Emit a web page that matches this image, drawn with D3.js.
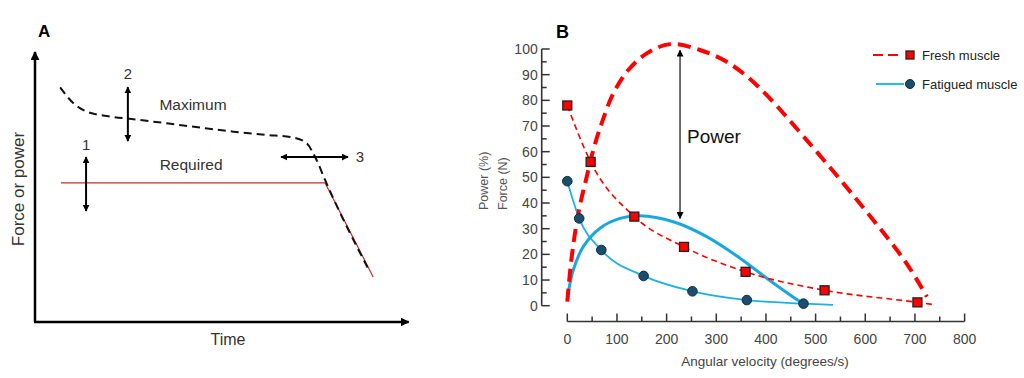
<!DOCTYPE html>
<html><head><meta charset="utf-8">
<script src="https://cdn.jsdelivr.net/npm/d3@7"></script>
<style>body{margin:0;background:#fff}svg{display:block}text{font-family:"Liberation Sans",Arial,sans-serif}</style>
</head><body>
<svg id="c" width="1024" height="378"></svg>
<script>
// ---------- Panel A data (arbitrary units 0..100) ----------
const maxCurveX = [6.8,10.4,14,19.4,26.6,35.6,44.6,53.6,62.6,69.8,73.4,76.1,78.4,90.5];
const maxCurveY = [86.9,81,77.9,76.3,75.1,73.6,72,70.5,69.3,68.3,66.2,60,52.6,18.6];
const requiredX = [7,78.4,91.4];
const requiredY = [51.5,51.5,16.7];
const annotLabels = ["1","2","3"];
// ---------- Panel B data ----------
const freshForceV = [0,47,135,235,359,518,705];
const freshForceF = [78,56,34.7,22.9,13.2,6,1.3];
const freshForceTail = [734,0.5];
const fatForceV = [0,24,68.5,153.7,252,361.5,475.6];
const fatForceF = [48.5,34,21.7,11.6,5.6,2.2,0.8];
const fatForceTail = [535,0.3];
const freshPowerV = [0,8.9,22.2,37.7,52.4,69.3,92.6,122.8,160,207,267,321,381,482,616,683,724];
const freshPowerP = [1.6,19.1,36,49.1,60.7,71.1,82.7,91.8,98.3,101.9,99.6,95,86,64.5,33.4,16.5,3.5];
const fatPowerV = [0,12,32.2,65.8,106,146,213.5,280.7,347.8,401.5,468.6,475];
const fatPowerP = [2.9,13.9,23,30.2,34,35,32.7,26.9,18.5,10.7,1.6,0.9];
const xTicks = [0,100,200,300,400,500,600,700,800];
const yTicks = [0,10,20,30,40,50,60,70,80,90,100];
const legendLabels = ["Fresh muscle","Fatigued muscle"];

const svg = d3.select("#c");
const RED = "#ff0000", BLUE = "#1db0e6", DOT = "#1b4d6d";

const defs = svg.append("defs");
function mk(id, size){
  defs.append("marker").attr("id",id).attr("viewBox","0 0 10 10").attr("refX",9).attr("refY",5)
    .attr("markerWidth",size).attr("markerHeight",size).attr("markerUnits","userSpaceOnUse").attr("orient","auto-start-reverse")
    .append("path").attr("d","M0,0 L10,5 L0,10 Z").attr("fill","#000");
}
mk("ah",9); mk("ahS",7);

// ================= Panel A =================
const xA = d3.scaleLinear().domain([0,100]).range([35,405]);
const yA = d3.scaleLinear().domain([0,100]).range([322,52]);
const gA = svg.append("g");
gA.append("text").attr("x",38).attr("y",37).attr("font-size",17).attr("font-weight","bold").text("A");
gA.append("line").attr("x1",xA(0)).attr("y1",yA(0)).attr("x2",xA(0)).attr("y2",yA(100)).attr("stroke","#000").attr("stroke-width",2.5).attr("marker-end","url(#ah)");
gA.append("line").attr("x1",xA(0)-1).attr("y1",yA(0)).attr("x2",xA(101)).attr("y2",yA(0)).attr("stroke","#000").attr("stroke-width",2.5).attr("marker-end","url(#ah)");
gA.append("text").attr("transform",`translate(24,${(yA(0)+yA(100))/2+2}) rotate(-90)`).attr("text-anchor","middle").attr("font-size",17).attr("fill","#333").text("Force or power");
gA.append("text").attr("x",228).attr("y",345).attr("text-anchor","middle").attr("font-size",16).attr("fill","#333").text("Time");
const lineA = d3.line().x(d=>xA(d[0])).y(d=>yA(d[1]));
gA.append("path").attr("d",lineA(d3.zip(requiredX,requiredY))).attr("fill","none").attr("stroke","#d42a2a").attr("stroke-width",1.2);
gA.append("path").attr("d",lineA.curve(d3.curveMonotoneX)(d3.zip(maxCurveX,maxCurveY))).attr("fill","none").attr("stroke","#111").attr("stroke-width",2).attr("stroke-dasharray","8,5");
function dArrow(x1,y1,x2,y2){
  gA.append("line").attr("x1",xA(x1)).attr("y1",yA(y1)).attr("x2",xA(x2)).attr("y2",yA(y2))
    .attr("stroke","#000").attr("stroke-width",2).attr("marker-start","url(#ahS)").attr("marker-end","url(#ahS)");
}
dArrow(13.8,61.1,13.8,41.1);
dArrow(25.1,87,25.1,67);
dArrow(66.5,61.1,84.6,61.1);
gA.append("text").attr("x",xA(13.8)).attr("y",yA(65.6)+5).attr("text-anchor","middle").attr("font-size",15).attr("fill","#333").text(annotLabels[0]);
gA.append("text").attr("x",xA(25.1)).attr("y",yA(91.9)+5).attr("text-anchor","middle").attr("font-size",15).attr("fill","#333").text(annotLabels[1]);
gA.append("text").attr("x",xA(87.8)).attr("y",yA(61.1)+5).attr("text-anchor","middle").attr("font-size",15).attr("fill","#333").text(annotLabels[2]);
gA.append("text").attr("x",xA(42.7)).attr("y",yA(80.4)+5).attr("text-anchor","middle").attr("font-size",15.5).attr("fill","#333").text("Maximum");
gA.append("text").attr("x",xA(42.2)).attr("y",yA(58.1)+5).attr("text-anchor","middle").attr("font-size",15.5).attr("fill","#333").text("Required");

// ================= Panel B =================
const x = d3.scaleLinear().domain([0,800]).range([567.3,964.6]);
const y = d3.scaleLinear().domain([0,100]).range([305.7,49]);
const gB = svg.append("g");
gB.append("text").attr("x",556).attr("y",38).attr("font-size",18).attr("font-weight","bold").text("B");

const yAx = gB.append("g").attr("transform","translate(541.7,0)");
yAx.append("line").attr("y1",y(0)).attr("y2",y(100)).attr("stroke","#333").attr("stroke-width",1.6);
yAx.selectAll(".ym").data(d3.range(0,101,5)).join("line").attr("x1",0).attr("x2",d=>d%10===0?8:5).attr("y1",d=>y(d)).attr("y2",d=>y(d)).attr("stroke","#333").attr("stroke-width",1.5);
yAx.selectAll("text").data(yTicks).join("text").attr("x",-4).attr("y",d=>y(d)+5).attr("text-anchor","end").attr("font-size",14).attr("fill","#444").text(d=>d);
const xAx = gB.append("g").attr("transform","translate(0,321.5)");
xAx.append("line").attr("x1",x(0)).attr("x2",x(800)).attr("stroke","#333").attr("stroke-width",1.6);
xAx.selectAll(".xm").data(d3.range(0,801,50)).join("line").attr("x1",d=>x(d)).attr("x2",d=>x(d)).attr("y1",0).attr("y2",d=>d%100===0?-8:-5).attr("stroke","#333").attr("stroke-width",1.5);
xAx.selectAll("text").data(xTicks).join("text").attr("x",d=>x(d)).attr("y",22).attr("text-anchor","middle").attr("font-size",14).attr("fill","#444").text(d=>d);
gB.append("text").attr("x",765).attr("y",366).attr("text-anchor","middle").attr("font-size",13.5).attr("fill","#444").text("Angular velocity (degrees/s)");
gB.append("text").attr("transform","translate(488,210) rotate(-90)").attr("font-size",12.5).attr("fill","#555").text("Power (%)");
gB.append("text").attr("transform","translate(507,210) rotate(-90)").attr("font-size",12.5).attr("fill","#555").text("Force (N)");

const cr = d3.line().x(d=>x(d[0])).y(d=>y(d[1])).curve(d3.curveCatmullRom.alpha(0.5));
const mono = d3.line().x(d=>x(d[0])).y(d=>y(d[1])).curve(d3.curveMonotoneX);
gB.append("path").attr("d",mono([...d3.zip(fatForceV,fatForceF),fatForceTail])).attr("fill","none").attr("stroke",BLUE).attr("stroke-width",1.8);
gB.append("path").attr("d",cr(d3.zip(fatPowerV,fatPowerP))).attr("fill","none").attr("stroke","#1aa6df").attr("stroke-width",3);
gB.append("path").attr("d",mono([...d3.zip(freshForceV,freshForceF),freshForceTail])).attr("fill","none").attr("stroke",RED).attr("stroke-width",1.6).attr("stroke-dasharray","6,4");
gB.append("path").attr("d",cr(d3.zip(freshPowerV,freshPowerP))).attr("fill","none").attr("stroke",RED).attr("stroke-width",4).attr("stroke-dasharray","13,7");
gB.selectAll(".sq").data(d3.zip(freshForceV,freshForceF)).join("rect")
  .attr("x",d=>x(d[0])-4.5).attr("y",d=>y(d[1])-4.5).attr("width",9).attr("height",9)
  .attr("fill",RED).attr("stroke","#222").attr("stroke-width",1.3);
gB.selectAll(".ci").data(d3.zip(fatForceV,fatForceF)).join("circle")
  .attr("cx",d=>x(d[0])).attr("cy",d=>y(d[1])).attr("r",4.8)
  .attr("fill",DOT).attr("stroke","#0e2e44").attr("stroke-width",1);
gB.append("line").attr("x1",x(227)).attr("x2",x(227)).attr("y1",y(99.5)).attr("y2",y(34))
  .attr("stroke","#222").attr("stroke-width",1.3).attr("marker-start","url(#ahS)").attr("marker-end","url(#ahS)");
gB.append("text").attr("x",687).attr("y",143).attr("font-size",19).attr("fill","#111").text("Power");

const lg = gB.append("g");
lg.append("line").attr("x1",873).attr("x2",903).attr("y1",55).attr("y2",55).attr("stroke",RED).attr("stroke-width",2).attr("stroke-dasharray","10,5");
lg.append("rect").attr("x",906).attr("y",51).attr("width",8).attr("height",8).attr("fill",RED).attr("stroke","#222").attr("stroke-width",1.3);
lg.append("text").attr("x",922).attr("y",60).attr("font-size",13).attr("fill","#222").text(legendLabels[0]);
lg.append("line").attr("x1",876).attr("x2",904).attr("y1",84).attr("y2",84).attr("stroke","#22bdf0").attr("stroke-width",2);
lg.append("circle").attr("cx",910).attr("cy",84).attr("r",4.5).attr("fill",DOT).attr("stroke","#0e2e44");
lg.append("text").attr("x",922).attr("y",89).attr("font-size",13).attr("fill","#222").text(legendLabels[1]);
</script>
</body></html>
